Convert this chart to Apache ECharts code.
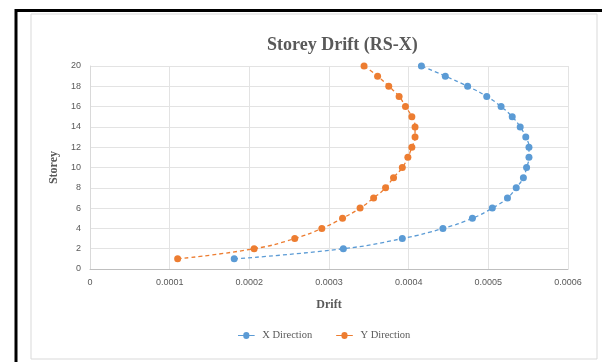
<!DOCTYPE html>
<html>
<head>
<meta charset="utf-8">
<script src="https://cdn.jsdelivr.net/npm/echarts@6/dist/echarts.min.js"></script>
<style>html,body{margin:0;padding:0;background:#fff}#c{width:602px;height:362px}</style>
</head>
<body>
<div id="c"></div>
<script>
const storeys = [1,2,3,4,5,6,7,8,9,10,11,12,13,14,15,16,17,18,19,20];
const xDirection = [0.000181,0.000318,0.000392,0.000443,0.000480,0.000505,0.000524,0.000535,0.000544,0.000548,0.000551,0.000551,0.000547,0.000540,0.000530,0.000516,0.000498,0.000474,0.000446,0.000416];
const yDirection = [0.000110,0.000206,0.000257,0.000291,0.000317,0.000339,0.000356,0.000371,0.000381,0.000392,0.000399,0.000404,0.000408,0.000408,0.000404,0.000396,0.000388,0.000375,0.000361,0.000344];
const seriesNames = ['X Direction','Y Direction'];
const colors = ['#5b9bd5','#ed7d31'];

const chart = echarts.init(document.getElementById('c'), null, {renderer:'canvas'});
const mk = (name, vals, color) => ({
  name, type:'line', smooth:true,
  data: vals.map((v,i)=>[v, storeys[i]]),
  symbol:'circle', symbolSize:7,
  itemStyle:{color},
  lineStyle:{color, width:1.3, type:[4,3]}
});
chart.setOption({
  animation:false,
  backgroundColor:'#fff',
  title:{text:'Storey Drift (RS-X)', left:262, top:31,
    textStyle:{fontFamily:'Liberation Serif', fontWeight:'bold', fontSize:18, color:'#595959'}},
  grid:{left:90, right:34, top:66, bottom:93},
  legend:{bottom:16, left:233, itemWidth:22, itemHeight:7, itemGap:24,
    textStyle:{fontFamily:'Liberation Serif', fontSize:10.5, color:'#595959'},
    data:seriesNames.map((n,i)=>({name:n, icon:'path://M0,4.5 L6,4.5 A3.5,3.5 0 1 1 13,4.5 L19,4.5 L19,5.5 L13,5.5 A3.5,3.5 0 1 1 6,5.5 L0,5.5 Z'}))},
  xAxis:{type:'value', min:0, max:0.0006, interval:0.0001,
    name:'Drift', nameLocation:'middle', nameGap:30,
    nameTextStyle:{fontFamily:'Liberation Serif', fontWeight:'bold', fontSize:12, color:'#595959'},
    axisLine:{show:true, lineStyle:{color:'#bfbfbf'}}, axisTick:{show:false},
    axisLabel:{fontFamily:'Liberation Sans', fontSize:9, color:'#595959', margin:9,
      formatter:v=> v===0 ? '0' : v.toFixed(4)},
    splitLine:{show:true, lineStyle:{color:'#e3e3e3'}}},
  yAxis:{type:'value', min:0, max:20, interval:2,
    name:'Storey', nameLocation:'middle', nameGap:28,
    nameTextStyle:{fontFamily:'Liberation Serif', fontWeight:'bold', fontSize:12, color:'#595959'},
    axisLine:{show:true, lineStyle:{color:'#d9d9d9'}}, axisTick:{show:false},
    axisLabel:{fontFamily:'Liberation Sans', fontSize:9, color:'#595959', margin:9},
    splitLine:{show:true, lineStyle:{color:'#e3e3e3'}}},
  series:[mk(seriesNames[0], xDirection, colors[0]), mk(seriesNames[1], yDirection, colors[1])],
  graphic:[
    {type:'rect', shape:{x:31, y:14, width:566, height:345}, style:{fill:'none', stroke:'#d9d9d9', lineWidth:1}, z:-1},
    {type:'line', shape:{x1:16, y1:10.5, x2:602, y2:10.5}, style:{stroke:'#000', lineWidth:3}},
    {type:'line', shape:{x1:16, y1:9, x2:16, y2:362}, style:{stroke:'#000', lineWidth:3}}
  ]
});
</script>
</body>
</html>
